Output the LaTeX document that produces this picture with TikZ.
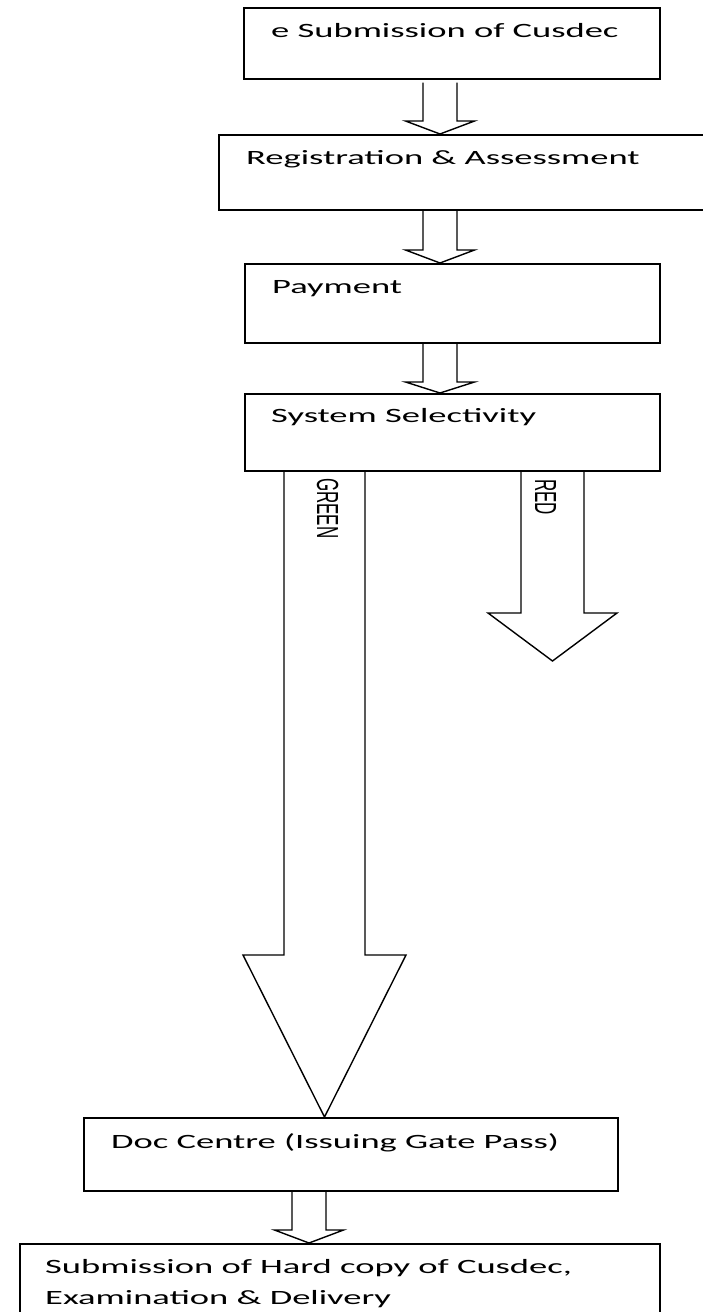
\documentclass[tikz,border=0pt]{standalone}
\usepackage{fontspec}
\setmainfont{Carlito}[FakeStretch=1.8]
\newfontfamily\lblfont{Liberation Sans}[FakeStretch=0.556]
\usetikzlibrary{calc}
\tikzset{
  box/.style={draw, line width=1.6pt, inner sep=0pt, anchor=north west},
  txt/.style={anchor=base west, inner sep=0pt, font=\fontsize{20.3}{31}\selectfont},
  lbl/.style={anchor=base west, inner sep=0pt, rotate=-90, font=\lblfont\fontsize{30.5}{32}\selectfont},
  blk/.style={draw, line width=1.4pt, line join=miter}
}
% #1 from anchor, #2 to anchor, #3 x centre, #4 shaft half width, #5 head half width, #6 head length, #7 top gap
\newcommand\blkarrow[7]{%
  \draw[blk] let \p1=(#1), \p2=(#2) in
    ({(#3-#4)*1pt},{\y1-#7pt}) -- ({(#3-#4)*1pt},{\y2+#6pt}) -- ({(#3-#5)*1pt},{\y2+#6pt})
    -- ({#3*1pt},\y2) -- ({(#3+#5)*1pt},{\y2+#6pt}) -- ({(#3+#4)*1pt},{\y2+#6pt})
    -- ({(#3+#4)*1pt},{\y1-#7pt});}
\begin{document}
\begin{tikzpicture}[x=1pt,y=-1pt]
\path[fill=white, use as bounding box] (0,0) rectangle (702,1312);

\node[box, minimum width=416pt, minimum height=71pt] (b1) at (243,7) {};
\node[box, minimum width=488pt, minimum height=75pt] (b2) at (218,134) {};
\node[box, minimum width=415pt, minimum height=79pt] (b3) at (244,263) {};
\node[box, minimum width=415pt, minimum height=77pt] (b4) at (244,393) {};
\node[box, minimum width=534pt, minimum height=73pt] (b5) at (83,1117) {};
\node[box, minimum width=640pt, minimum height=74pt] (b6) at (19,1243) {};

\node[txt] (t1) at (271,37) {e Submission of Cusdec};
\node[txt] (t2) at (246,164) {Registration \& Assessment};
\node[txt] (t3) at (272,293) {Payment};
\node[txt] (t4) at (271,422) {System Selectivity};
\node[txt] (t5) at (111,1148) {Doc Centre (Issuing Gate Pass)};
\node[txt] (t6a) at (45,1273) {Submission of Hard copy of Cusdec,};
\node[txt] (t6b) at (45,1304) {Examination \& Delivery};

\blkarrow{b1.south}{b2.north}{440}{17}{34.5}{13}{3}
\blkarrow{b2.south}{b3.north}{440}{17}{34.5}{13}{0}
\blkarrow{b3.south}{b4.north}{440}{17}{34.5}{11}{0}
\blkarrow{b4.south}{b5.north}{324.5}{40.5}{81.5}{162}{0}
\coordinate (redtip) at (553,661);
\blkarrow{b4.south}{redtip}{552.5}{31.5}{64.5}{48}{0}
\blkarrow{b5.south}{b6.north}{309}{17}{34.5}{13}{0}

\node[lbl] (green) at (317,478) {GREEN};
\node[lbl] (red) at (535,479) {RED};
\end{tikzpicture}
\end{document}
